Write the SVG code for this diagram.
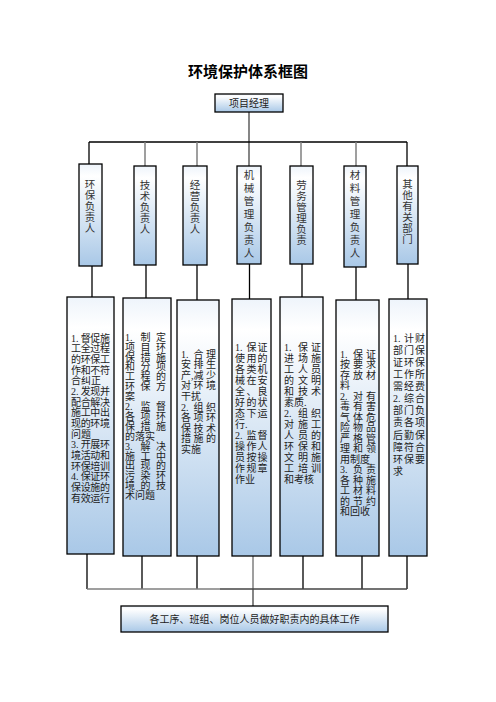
<svg xmlns="http://www.w3.org/2000/svg" width="496" height="702" viewBox="0 0 496 702">
<defs>
<linearGradient id="g" x1="0" y1="0" x2="0" y2="1">
<stop offset="0" stop-color="#eef4fb"/>
<stop offset="0.12" stop-color="#ffffff"/>
<stop offset="1" stop-color="#a9c8e7"/>
</linearGradient>
<style>
.t{font-family:"Liberation Serif","Noto Sans CJK SC",serif;font-size:10px;fill:#222}
.v{font-family:"Liberation Serif","Noto Sans CJK SC",serif;font-size:10.5px;fill:#333;text-anchor:middle}
.box{fill:url(#g);stroke:#000;stroke-width:1.3}
.ln{stroke:#000;stroke-width:1.3;fill:none}
.lg{stroke:#7f7f7f;stroke-width:1.5;fill:none}
.ld{stroke:#444;stroke-width:1.3;fill:none}
</style>
</defs>
<rect width="496" height="702" fill="#fff"/>
<text x="248" y="77" text-anchor="middle" style="font-family:'Noto Sans CJK SC',sans-serif;font-size:15px;font-weight:bold;fill:#000">环境保护体系框图</text>

<g id="connectors">
<line class="ld" x1="249" y1="112" x2="249" y2="166"/>
<line class="ln" x1="89" y1="142" x2="407" y2="142"/>
<line class="ln" x1="89" y1="142" x2="89" y2="164"/>
<line class="ln" x1="407" y1="142" x2="407" y2="166"/>
<line class="lg" x1="145" y1="142" x2="145" y2="166"/>
<line class="lg" x1="197" y1="142" x2="197" y2="166"/>
<line class="lg" x1="301" y1="142" x2="301" y2="166"/>
<line class="lg" x1="356" y1="142" x2="356" y2="166"/>
<line class="ln" x1="92" y1="266" x2="92" y2="297"/>
<line class="ln" x1="146" y1="265" x2="146" y2="298"/>
<line class="ln" x1="197" y1="265" x2="197" y2="300"/>
<line class="ln" x1="249.5" y1="264" x2="249.5" y2="299"/>
<line class="ln" x1="302" y1="264" x2="302" y2="297"/>
<line class="ln" x1="356" y1="267" x2="356" y2="300"/>
<line class="ln" x1="408" y1="264" x2="408" y2="299"/>
<line class="ln" x1="87" y1="554" x2="87" y2="589"/>
<line class="ln" x1="142" y1="556" x2="142" y2="589"/>
<line class="ln" x1="197" y1="556" x2="197" y2="589"/>
<line class="lg" x1="253" y1="556" x2="253" y2="589"/>
<line class="ld" x1="253" y1="589" x2="253" y2="606"/>
<line class="ln" x1="303" y1="556" x2="303" y2="589"/>
<line class="ln" x1="362" y1="556" x2="362" y2="589"/>
<line class="ln" x1="407" y1="556" x2="407" y2="589"/>
<line class="lg" x1="87" y1="589" x2="220" y2="589"/>
<line class="ld" x1="220" y1="589" x2="407" y2="589"/>
</g>

<g id="pm">
<rect class="box" x="215" y="94" width="68" height="18"/>
<text class="t" x="249" y="107" text-anchor="middle" style="font-size:10px">项目经理</text>
</g>

<g id="top1">
<rect class="box" x="79" y="164" width="23" height="102"/>
<text class="v" x="90 90 90 90 90" y="187.7 198.7 209.7 220.7 231.7">环保负责人</text>
</g>
<g id="top2">
<rect class="box" x="134" y="166" width="22" height="99"/>
<text class="v" x="145 145 145 145 145" y="188.7 199.7 210.7 221.7 232.7">技术负责人</text>
</g>
<g id="top3">
<rect class="box" x="183" y="166" width="24" height="99"/>
<text class="v" x="195 195 195 195 195" y="188.7 199.7 210.7 221.7 232.7">经营负责人</text>
</g>
<g id="top4">
<rect class="box" x="237" y="166" width="24" height="98"/>
<text class="v" x="249 249 249 249 249 249 249" y="178.7 191.7 204.7 217.7 230.7 243.7 256.7">机械管理负责人</text>
</g>
<g id="top5">
<rect class="box" x="290" y="166" width="23" height="98"/>
<text class="v" x="301.5 301.5 301.5 301.5 301.5 301.5" y="188.7 199.7 210.7 221.7 232.7 243.7">劳务管理负责</text>
</g>
<g id="top6">
<rect class="box" x="344" y="166" width="22" height="101"/>
<text class="v" x="355 355 355 355 355 355 355" y="178.7 191.7 204.7 217.7 230.7 243.7 256.7">材料管理负责人</text>
</g>
<g id="top7">
<rect class="box" x="397" y="166" width="21" height="98"/>
<text class="v" x="407.5 407.5 407.5 407.5 407.5 407.5" y="187.7 198.7 209.7 220.7 231.7 242.7">其他有关部门</text>
</g>

<g id="duty1">
<rect class="box" x="67" y="297" width="47" height="257"/>
<text class="t" y="341.7"><tspan x="71">1.</tspan><tspan x="80.7 90.3 100">督促施</tspan></text>
<text class="t" x="71 80.7 90.3 100" y="352.4">工全过程</text>
<text class="t" x="71 80.7 90.3 100" y="363">的环保工</text>
<text class="t" x="71 80.7 90.3 100" y="373.7">作和不符</text>
<text class="t" x="71" y="384.4">合纠正</text>
<text class="t" y="395.1"><tspan x="71">2.</tspan><tspan x="80.7 90.3 100">发现并</tspan></text>
<text class="t" x="71 80.7 90.3 100" y="405.7">配合解决</text>
<text class="t" x="71 80.7 90.3 100" y="416.4">施工中出</text>
<text class="t" x="71 80.7 90.3 100" y="427.1">现的环境</text>
<text class="t" x="71" y="437.7">问题</text>
<text class="t" y="448.4"><tspan x="71">3.</tspan><tspan x="80.7 90.3 100">开展环</tspan></text>
<text class="t" x="71 80.7 90.3 100" y="459.1">境活动和</text>
<text class="t" x="71 80.7 90.3 100" y="469.7">环保培训</text>
<text class="t" y="480.4"><tspan x="71">4.</tspan><tspan x="80.7 90.3 100">保证环</tspan></text>
<text class="t" x="71 80.7 90.3 100" y="491.1">保设施的</text>
<text class="t" x="71 80.7 90.3 100" y="501.7">有效运行</text>
</g>

<g id="duty2">
<rect class="box" x="123" y="298" width="48" height="258"/>
<text class="t" y="340.7"><tspan x="125">1.</tspan><tspan x="140.5 156">制定</tspan></text>
<text class="t" x="125 140.5 156" y="350.6">项目环</text>
<text class="t" x="125 140.5 156" y="360.5">保措施</text>
<text class="t" x="125 140.5 156" y="370.4">和分项</text>
<text class="t" x="125 140.5 156" y="380.3">工程的</text>
<text class="t" x="125 140.5 156" y="390.2">环保方</text>
<text class="t" x="125" y="400.1">案</text>
<text class="t" y="410"><tspan x="125">2.</tspan><tspan x="140.5 156">监督</tspan></text>
<text class="t" x="125 140.5 156" y="419.9">各项环</text>
<text class="t" x="125 140.5 156" y="429.8">保措施</text>
<text class="t" x="125" y="439.7">的落实</text>
<text class="t" y="449.6"><tspan x="125">3.</tspan><tspan x="140.5 156">解决</tspan></text>
<text class="t" x="125 140.5 156" y="459.5">施工中</text>
<text class="t" x="125 140.5 156" y="469.4">出现的</text>
<text class="t" x="125 140.5 156" y="479.3">污染环</text>
<text class="t" x="125 140.5 156" y="489.2">境的技</text>
<text class="t" x="125" y="499.1">术问题</text>
</g>

<g id="duty3">
<rect class="box" x="177" y="300" width="42" height="256"/>
<text class="t" y="357.7"><tspan x="181">1.</tspan><tspan x="193.5 206">合理</tspan></text>
<text class="t" x="181 193.5 206" y="368.3">安排生</text>
<text class="t" y="378.8"><tspan x="181">产,</tspan><tspan x="193.5 206">减少</tspan></text>
<text class="t" x="181 193.5 206" y="389.4">对环境</text>
<text class="t" x="181" y="399.9">干扰</text>
<text class="t" y="410.5"><tspan x="181">2.</tspan><tspan x="193.5 206">组织</tspan></text>
<text class="t" x="181 193.5 206" y="421">各项环</text>
<text class="t" x="181 193.5 206" y="431.6">保技术</text>
<text class="t" x="181 193.5 206" y="442.1">措施的</text>
<text class="t" x="181" y="452.7">实施</text>
</g>

<g id="duty4">
<rect class="box" x="232" y="299" width="39" height="257"/>
<text class="t" y="350.7"><tspan x="235">1.</tspan><tspan x="246.5 257.5">保证</tspan></text>
<text class="t" x="235 246.5 257.5" y="361.7">使用的</text>
<text class="t" x="235 246.5 257.5" y="372.7">各类机</text>
<text class="t" x="235 246.5 257.5" y="383.7">械在安</text>
<text class="t" x="235 246.5 257.5" y="394.7">全、良</text>
<text class="t" x="235 246.5 257.5" y="405.7">好的状</text>
<text class="t" x="235 246.5 257.5" y="416.7">态下运</text>
<text class="t" x="235" y="427.7">行.</text>
<text class="t" y="438.7"><tspan x="235">2.</tspan><tspan x="246.5 257.5">监督</tspan></text>
<text class="t" x="235 246.5 257.5" y="449.7">操作人</text>
<text class="t" x="235 246.5 257.5" y="460.7">员按操</text>
<text class="t" x="235 246.5 257.5" y="471.7">作规章</text>
<text class="t" x="235" y="482.7">作业</text>
</g>

<g id="duty5">
<rect class="box" x="280" y="297" width="43" height="259"/>
<text class="t" y="350.7"><tspan x="284">1.</tspan><tspan x="298 311">保证</tspan></text>
<text class="t" x="284 298 311" y="361.7">进场施</text>
<text class="t" x="284 298 311" y="372.7">工人员</text>
<text class="t" x="284 298 311" y="383.7">的文明</text>
<text class="t" x="284 298 311" y="394.7">和技术</text>
<text class="t" x="284" y="405.7">素质.</text>
<text class="t" y="416.7"><tspan x="284">2.</tspan><tspan x="298 311">组织</tspan></text>
<text class="t" x="284 298 311" y="427.7">对施工</text>
<text class="t" x="284 298 311" y="438.7">人员的</text>
<text class="t" x="284 298 311" y="449.7">环保和</text>
<text class="t" x="284 298 311" y="460.7">文明施</text>
<text class="t" x="284 298 311" y="471.7">工培训</text>
<text class="t" x="284" y="482.7">和考核</text>
</g>

<g id="duty6">
<rect class="box" x="336" y="300" width="43" height="256"/>
<text class="t" y="357.7"><tspan x="340">1.</tspan><tspan x="353 366">保证</tspan></text>
<text class="t" x="340 353 366" y="368.2">按要求</text>
<text class="t" x="340 353 366" y="378.7">存放材</text>
<text class="t" x="340" y="389.2">料</text>
<text class="t" y="399.7"><tspan x="340">2.</tspan><tspan x="353 366">对有</tspan></text>
<text class="t" x="340 353 366" y="410.2">毒有害</text>
<text class="t" x="340 353 366" y="420.7">气体危</text>
<text class="t" x="340 353 366" y="431.2">险物品</text>
<text class="t" x="340 353 366" y="441.7">严格管</text>
<text class="t" x="340 353 366" y="452.2">理和领</text>
<text class="t" x="340" y="462.7">用制度</text>
<text class="t" y="473.2"><tspan x="340">3.</tspan><tspan x="353 366">负责</tspan></text>
<text class="t" x="340 353 366" y="483.7">各种施</text>
<text class="t" x="340 353 366" y="494.2">工材料</text>
<text class="t" x="340 353 366" y="504.7">的节约</text>
<text class="t" x="340" y="515.2">和回收</text>
</g>

<g id="duty7">
<rect class="box" x="389" y="299" width="38" height="257"/>
<text class="t" y="341.7"><tspan x="393">1.</tspan><tspan x="404 415">计财</tspan></text>
<text class="t" x="393 404 415" y="353.8">部门保</text>
<text class="t" x="393 404 415" y="365.9">证环保</text>
<text class="t" x="393 404 415" y="378">工作所</text>
<text class="t" x="393 404 415" y="390.1">需经费</text>
<text class="t" y="402.2"><tspan x="393">2.</tspan><tspan x="404 415">综合</tspan></text>
<text class="t" x="393 404 415" y="414.3">部门负</text>
<text class="t" x="393 404 415" y="426.4">责各项</text>
<text class="t" x="393 404 415" y="438.5">后勤保</text>
<text class="t" x="393 404 415" y="450.6">障符合</text>
<text class="t" x="393 404 415" y="462.7">环保要</text>
<text class="t" x="393" y="474.8">求</text>
</g>

<g id="work">
<rect class="box" x="121" y="606" width="267" height="26"/>
<text class="t" x="254.5" y="622.7" text-anchor="middle">各工序、班组、岗位人员做好职责内的具体工作</text>
</g>
</svg>
